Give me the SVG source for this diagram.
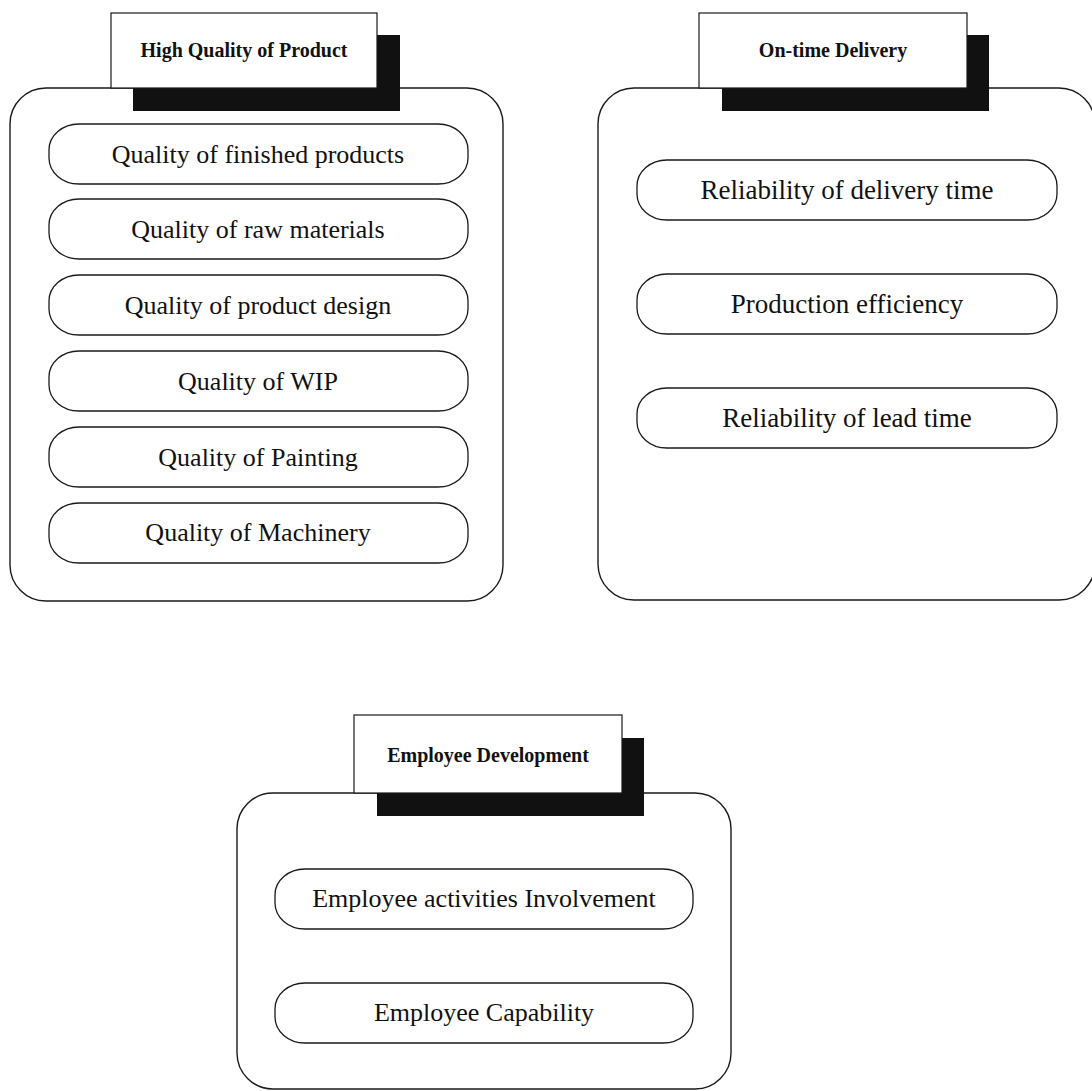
<svg xmlns="http://www.w3.org/2000/svg" width="1092" height="1091" viewBox="0 0 1092 1091">
<style>
.panel{fill:#fff;stroke:#1a1a1a;stroke-width:1.4}
.shadow{fill:#111}
.title{fill:#fff;stroke:#1a1a1a;stroke-width:1.2}
.pill{fill:#fff;stroke:#1a1a1a;stroke-width:1.3}
.tt{font-family:"Liberation Serif","Times New Roman",serif;font-weight:bold;font-size:20px;fill:#111;text-anchor:middle}
.pt{font-family:"Liberation Serif","Times New Roman",serif;font-size:26px;fill:#111;text-anchor:middle}
.pt2{font-family:"Liberation Serif","Times New Roman",serif;font-size:27px;fill:#111;text-anchor:middle}
</style>
<rect width="1092" height="1091" fill="#fff"/>
<g id="quality">
<rect class="panel" x="10" y="88" width="493" height="513" rx="36" ry="36"/>
<rect class="shadow" x="133" y="35" width="267" height="76"/>
<rect class="title" x="111" y="13" width="266" height="75"/>
<text class="tt" x="244" y="57">High Quality of Product</text>
<g id="q1"><rect class="pill" x="49" y="124" width="419" height="60" rx="30" ry="26"/><text class="pt" x="258" y="163">Quality of finished products</text></g>
<g id="q2"><rect class="pill" x="49" y="199" width="419" height="60" rx="30" ry="26"/><text class="pt" x="258" y="238">Quality of raw materials</text></g>
<g id="q3"><rect class="pill" x="49" y="275" width="419" height="60" rx="30" ry="26"/><text class="pt" x="258" y="314">Quality of product design</text></g>
<g id="q4"><rect class="pill" x="49" y="351" width="419" height="60" rx="30" ry="26"/><text class="pt" x="258" y="390">Quality of WIP</text></g>
<g id="q5"><rect class="pill" x="49" y="427" width="419" height="60" rx="30" ry="26"/><text class="pt" x="258" y="466">Quality of Painting</text></g>
<g id="q6"><rect class="pill" x="49" y="503" width="419" height="60" rx="30" ry="26"/><text class="pt" x="258" y="541">Quality of Machinery</text></g>
</g>
<g id="delivery">
<rect class="panel" x="598" y="88" width="497" height="512" rx="36" ry="36"/>
<rect class="shadow" x="722" y="35" width="267" height="76"/>
<rect class="title" x="699" y="13" width="268" height="75"/>
<text class="tt" x="833" y="57">On-time Delivery</text>
<g id="d1"><rect class="pill" x="637" y="160" width="420" height="60" rx="30" ry="26"/><text class="pt2" x="847" y="199">Reliability of delivery time</text></g>
<g id="d2"><rect class="pill" x="637" y="274" width="420" height="60" rx="30" ry="26"/><text class="pt2" x="847" y="313">Production efficiency</text></g>
<g id="d3"><rect class="pill" x="637" y="388" width="420" height="60" rx="30" ry="26"/><text class="pt2" x="847" y="427">Reliability of lead time</text></g>
</g>
<g id="employee">
<rect class="panel" x="237" y="793" width="494" height="296" rx="36" ry="36"/>
<rect class="shadow" x="377" y="738" width="267" height="78"/>
<rect class="title" x="354" y="715" width="268" height="78"/>
<text class="tt" x="488" y="762">Employee Development</text>
<g id="e1"><rect class="pill" x="275" y="869" width="418" height="60" rx="30" ry="26"/><text class="pt" x="484" y="907">Employee activities Involvement</text></g>
<g id="e2"><rect class="pill" x="275" y="983" width="418" height="60" rx="30" ry="26"/><text class="pt" x="484" y="1021">Employee Capability</text></g>
</g>
<g id="connectors"></g>
</svg>
